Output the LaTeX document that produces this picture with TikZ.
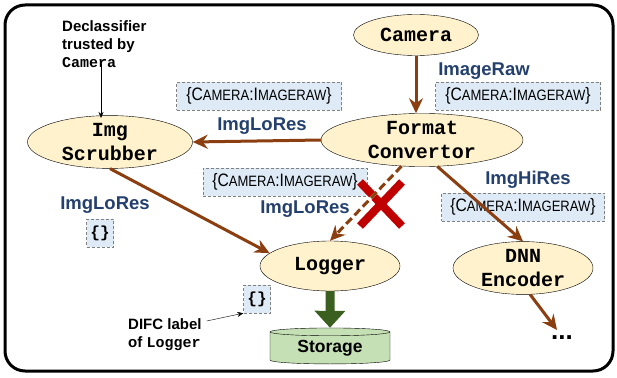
\documentclass[tikz,border=0pt]{standalone}
\usepackage{fontspec}
\setmainfont{Liberation Sans}
\setmonofont{Liberation Mono}
\usepackage{tikz}
\usetikzlibrary{positioning, shapes, shapes.geometric, shapes.misc, arrows.meta, calc}

\definecolor{flowbrown}{HTML}{8B3E0F}
\definecolor{labelblue}{HTML}{24406E}
\definecolor{procfill}{HTML}{FFF2CC}
\definecolor{tagfill}{HTML}{DEEBF7}
\definecolor{storefill}{HTML}{C5E0B4}
\definecolor{storearrow}{HTML}{3A5F1F}
\definecolor{denyred}{HTML}{C00000}

\newcommand{\camtag}{\scalebox{0.87}[1]{\{C{\fontsize{15}{16}\selectfont AMERA}:I{\fontsize{15}{16}\selectfont MAGERAW}\}}}

\tikzset{
	proc/.style={ellipse, draw, fill=procfill, inner sep=0pt, align=center, font=\fontsize{20}{24}\selectfont\ttfamily\bfseries},
	tag/.style={draw=gray, densely dashed, fill=tagfill, inner sep=2pt, minimum height=28pt, font=\fontsize{18}{20}\selectfont},
	emptytag/.style={tag, minimum width=27pt, font=\fontsize{16}{18}\selectfont\ttfamily\bfseries},
	flowname/.style={text=labelblue, font=\fontsize{18.5}{20}\selectfont\bfseries},
	flow/.style={draw=flowbrown, line width=3pt, -{Stealth[length=15pt,width=14pt,inset=5pt]}},
	note/.style={align=left, inner sep=0pt, font=\fontsize{15}{18}\selectfont\bfseries},
}

\begin{document}
\begin{tikzpicture}[x=1pt, y=-1pt]
			\useasboundingbox (0,0) rectangle (617,377);
			\draw [line width=3pt, rounded corners=20pt] (5,5) rectangle (613,371);
			
			\node [proc, minimum width=125pt, minimum height=41pt] (camera) at (416,35) {Camera};
			\node [proc, minimum width=202pt, minimum height=53pt] (fmt) at (422,140) {Format\\Convertor};
			\node [proc, minimum width=165pt, minimum height=49pt] (scrub) at (110,142) {Img\\Scrubber};
			\node [proc, minimum width=140pt, minimum height=50pt] (logger) at (330,266) {Logger};
			\node [proc, minimum width=140pt, minimum height=50pt] (dnn) at (523,268) {DNN\\Encoder};
			\node [cylinder, shape border rotate=90, aspect=0.12, draw, fill=storefill, minimum width=120pt, minimum height=36pt, inner sep=0pt, font=\fontsize{17.5}{20}\selectfont\bfseries] (storage) at (330,348) {Storage};
			\node [inner sep=0pt, font=\fontsize{26}{26}\selectfont\bfseries] (more) at (562,338) {...};
			
			\node [tag, minimum width=165pt] (tagA) at (259,96) {\camtag};
			\node [tag, minimum width=165pt] (tagB) at (518,96) {\camtag};
			\node [tag, minimum width=164pt] (tagC) at (285,182) {\camtag};
			\node [tag, minimum width=163pt] (tagD) at (523,207) {\camtag};
			\node [emptytag] (tagE) at (100,233) {\{\}};
			\node [emptytag] (tagF) at (257,299) {\{\}};
			
			\node [flowname] (rawname) at (484,71) {ImageRaw};
			\node [flowname] (loname) at (262,126) {ImgLoRes};
			\node [flowname] (lonamemid) at (305,209) {ImgLoRes};
			\node [flowname] (hiname) at (528,180) {ImgHiRes};
			\node [flowname] (lonameleft) at (105,205) {ImgLoRes};
			
			\node [note, anchor=north west] (declass) at (62,20) {Declassifier\\trusted by\\{\ttfamily Camera}};
			\node [note, anchor=north west] (difc) at (128,318) {DIFC label\\of {\ttfamily Logger}};
			
			\coordinate (declasstip) at (101,118);
			\coordinate (moretip) at (557,330);
			
			\node [cross out, draw=denyred, line width=8pt, minimum width=34pt, minimum height=36pt, inner sep=0pt] (deny) at (381,204) {};
			
			\draw [flow] (camera.south) -- (camera.south |- fmt.north);
			\draw [flow] (fmt.west) -- (scrub.east);
			\draw [flow] (scrub.south) -- (logger.168);
			\draw [flow] (fmt.300) -- (dnn.north);
			\draw [flow] (dnn.-75) -- (moretip);
			\draw [white, line width=3pt, shorten >=12pt] (fmt.232) -- (logger.north);
			\draw [flow, dash pattern=on 8pt off 4pt] (fmt.232) -- (logger.north);
			\draw [storearrow, line width=9pt, -{Triangle[length=17pt,width=30pt]}] (logger.south) -- (storage.north);
			
			\draw [-{Stealth[length=6pt,width=5pt]}] (declasstip |- declass.south) ++(0,-3) -- (declasstip);
			\draw [-{Stealth[length=6pt,width=5pt]}] (difc.north east) ++(5,3) -- (tagF.south west);
\end{tikzpicture}
\end{document}
